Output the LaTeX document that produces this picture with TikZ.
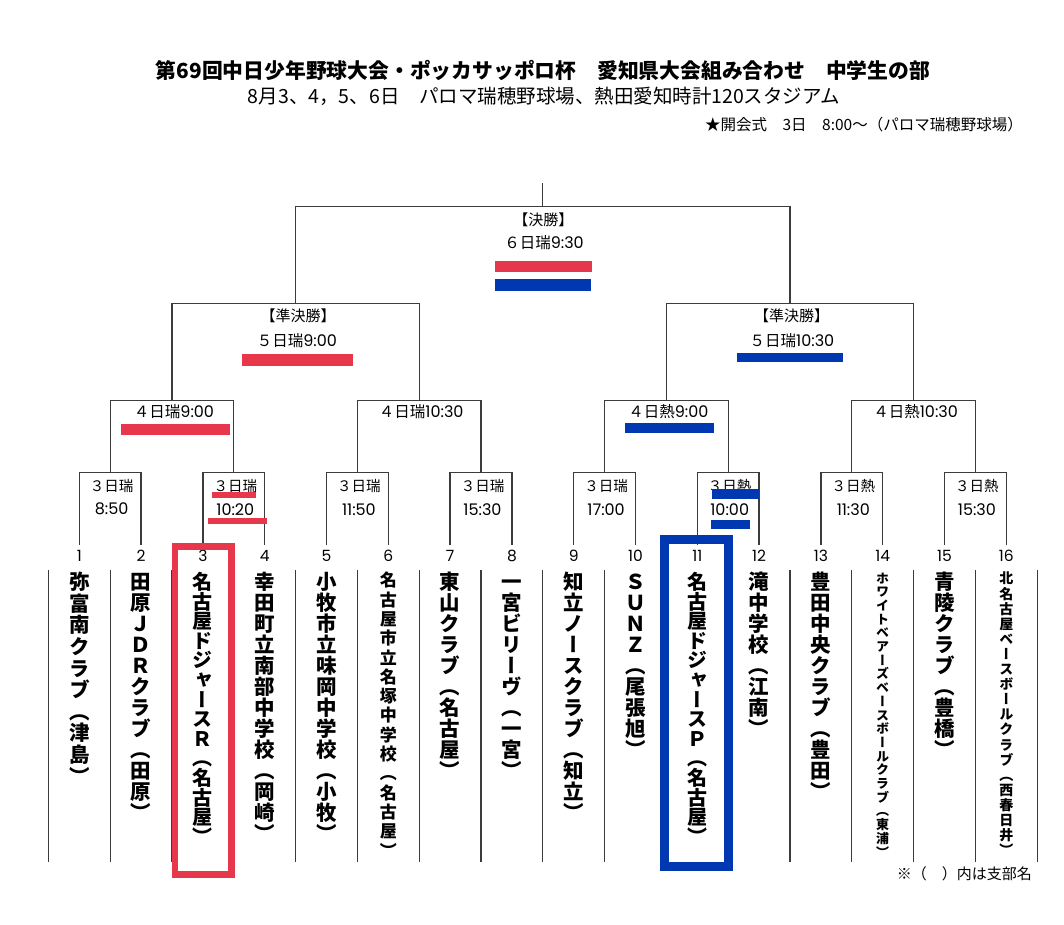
\documentclass[tikz,border=0pt]{standalone}
\usepackage{fontspec}
\setmainfont{Noto Sans CJK JP}
\newfontfamily\vjp[RawFeature=+vert]{Noto Sans CJK JP}
\newfontfamily\dg{Poppins}
\usetikzlibrary{calc}
\definecolor{hlred}{RGB}{230,55,75}
\definecolor{hlblue}{RGB}{0,56,178}
\definecolor{linegray}{RGB}{60,60,60}
\ExplSyntaxOn
\tl_new:N \l_vt_tl
\NewDocumentCommand\vt{mmm}{
  \group_begin:
  \tl_set:Nx \l_vt_tl {#3}
  \tl_replace_all:Nnn \l_vt_tl {（} {︵}
  \tl_replace_all:Nnn \l_vt_tl {）} {︶}
  \vjp\fontsize{#1}{#2}\bfseries\selectfont
  \vbox{\baselineskip=#2\lineskiplimit=-\maxdimen\lineskip=0pt
    \tl_map_inline:Nn \l_vt_tl {\hbox to #1{\hss ##1\hss\vrule~height~0.83em~depth~0pt~width~0pt}}}
  \group_end:
}
\ExplSyntaxOff
\newcommand\tm[1]{{\dg\fontsize{16}{17}\selectfont #1}}
\tikzset{
  bracket/.style={draw=linegray, line width=1.3pt},
  sepline/.style={draw=linegray, line width=1.3pt},
  lbl/.style={inner sep=0pt, font=\fontsize{14.5}{15}\selectfont},
  rlbl/.style={inner sep=0pt, font=\fontsize{15.5}{17}\selectfont},
  hdl/.style={inner sep=0pt, font=\fontsize{15}{16}\selectfont},
  num/.style={inner sep=0pt, font=\dg\fontsize{15.5}{16}\selectfont},
  team/.style={anchor=north, inner sep=0pt},
  titlef/.style={inner sep=0pt, font=\fontsize{20.8}{22}\bfseries\selectfont},
  subf/.style={inner sep=0pt, font=\fontsize{19.5}{21}\selectfont},
  smallf/.style={inner sep=0pt, font=\fontsize{15.5}{17}\selectfont},
  notef/.style={inner sep=0pt, font=\fontsize{15}{17}\selectfont},
  redbar/.style={fill=hlred, draw=none, inner sep=0pt, outer sep=0pt},
  bluebar/.style={fill=hlblue, draw=none, inner sep=0pt, outer sep=0pt},
  redframe/.style={draw=hlred, line width=6.5pt},
  blueframe/.style={draw=hlblue, line width=9pt}
}
\begin{document}
\begin{tikzpicture}[x=1pt,y=-1pt]
\useasboundingbox (0,0) rectangle (1064,924);
\fill[white] (0,0) rectangle (1064,924);

% headings
\node[titlef] (title) at (543,70.5) {第69回中日少年野球大会・ポッカサッポロ杯　愛知県大会組み合わせ　中学生の部};
\node[subf] (sub) at (544,96) {8月3、4，5、6日　パロマ瑞穂野球場、熱田愛知時計120スタジアム};
\node[smallf, anchor=east] (open) at (1023,124.5) {★開会式　3日　8:00～（パロマ瑞穂野球場）};

% team leg ends and numbers
\foreach \i in {1,...,16}{
  \pgfmathsetmacro\xx{79.3+(\i-1)*61.8}
  \coordinate (b\i) at (\xx,545);
  \node[num] (n\i) at (\xx,556) {\i};
}
% match centres
\foreach \j in {1,...,8}{
  \pgfmathsetmacro\xx{79.3+(2*\j-1.5)*61.8}
  \coordinate (ra-\j) at (\xx,472.7);
}
\foreach \k in {1,...,4}{
  \pgfmathsetmacro\xx{79.3+(4*\k-2.5)*61.8}
  \coordinate (rb-\k) at (\xx,400.3);
}
\foreach \m in {1,2}{
  \pgfmathsetmacro\xx{79.3+(8*\m-4.5)*61.8}
  \coordinate (rc-\m) at (\xx,303.3);
}
\coordinate (rd) at (542.8,206.7);
\coordinate (top) at (542.8,182.7);

% bracket lines
\foreach \j in {1,...,8}{
  \pgfmathtruncatemacro\a{2*\j-1}
  \pgfmathtruncatemacro\b{2*\j}
  \draw[bracket] (b\a) |- (ra-\j) -| (b\b);
}
\foreach \k in {1,...,4}{
  \pgfmathtruncatemacro\a{2*\k-1}
  \pgfmathtruncatemacro\b{2*\k}
  \draw[bracket] (ra-\a) |- (rb-\k) -| (ra-\b);
}
\foreach \m in {1,2}{
  \pgfmathtruncatemacro\a{2*\m-1}
  \pgfmathtruncatemacro\b{2*\m}
  \draw[bracket] (rb-\a) |- (rc-\m) -| (rb-\b);
}
\draw[bracket] (rc-1) |- (rd) -| (rc-2);
\draw[bracket] (rd) -- (top);

% separators
\foreach \k in {0,...,16}{
  \pgfmathsetmacro\xx{48.4+\k*61.8}
  \coordinate (st\k) at (\xx,570);
  \coordinate (sb\k) at (\xx,862);
  \draw[sepline] (st\k) -- (sb\k);
}

% round 1 labels
\foreach \j/\da/\tt in {1/３日瑞/8:50, 2/３日瑞/10:20, 3/３日瑞/11:50, 4/３日瑞/15:30,
                         5/３日瑞/17:00, 6/３日熱/10:00, 7/３日熱/11:30, 8/３日熱/15:30}{
  \node[lbl] (la-\j) at ($(ra-\j)+(1.5,13)$) {\da};
  \node[lbl] (lb-\j) at ($(ra-\j)+(1.5,36.5)$) {\tm{\tt}};
}
% round 2 labels
\foreach \k/\da/\tt in {1/４日瑞/9:00, 2/４日瑞/10:30, 3/４日熱/9:00, 4/４日熱/10:30}{
  \node[rlbl] (lc-\k) at ($(rb-\k)+(2,11.7)$) {\da\tm{\tt}};
}
% semifinal labels
\node[hdl] (sh1) at ($(rc-1)+(2.4,12.4)$) {【準決勝】};
\node[rlbl] (st1) at ($(rc-1)+(1.2,37.4)$) {５日瑞\tm{9:00}};
\node[hdl] (sh2) at ($(rc-2)+(1.7,12.4)$) {【準決勝】};
\node[rlbl] (st2) at ($(rc-2)+(2,37.4)$) {５日瑞\tm{10:30}};
% final labels
\node[hdl] (fh) at ($(rd)+(0.5,13.3)$) {【決勝】};
\node[rlbl] (ft) at ($(rd)+(1.2,36.2)$) {６日瑞\tm{9:30}};

% highlight bars
\node[redbar, minimum width=96.7pt, minimum height=11.6pt] (fbar-r) at (543.3,266.5) {};
\node[bluebar, minimum width=96pt, minimum height=11.7pt] (fbar-b) at (543,285.2) {};
\node[redbar, minimum width=110.4pt, minimum height=11.7pt] (sbar-r) at (297.5,360.2) {};
\node[bluebar, minimum width=105.7pt, minimum height=9.6pt] (sbar-b) at (790.2,357.5) {};
\node[redbar, minimum width=109.6pt, minimum height=10.7pt] (qbar-r) at (175.5,429.4) {};
\node[bluebar, minimum width=89pt, minimum height=9.4pt] (qbar-b) at (669.5,428) {};
\node[redbar, minimum width=43.4pt, minimum height=6pt] (pbar-r1) at (234,495.3) {};
\node[redbar, minimum width=58.4pt, minimum height=6.3pt] (pbar-r2) at (237.5,520.9) {};
\node[bluebar, minimum width=47.6pt, minimum height=9.7pt] (pbar-b1) at (735.5,494.2) {};
\node[bluebar, minimum width=39.3pt, minimum height=9.3pt] (pbar-b2) at (730.4,524.7) {};

% team names
\foreach \i/\fs/\sk/\txt in {
  1/20.5pt/21.6pt/弥富南クラブ（津島）,
  2/20.5pt/21pt/田原ＪＤＲクラブ（田原）,
  3/20pt/19.6pt/名古屋ドジャースＲ（名古屋）,
  4/20.5pt/21pt/幸田町立南部中学校（岡崎）,
  5/20.5pt/21pt/小牧市立味岡中学校（小牧）,
  6/17pt/19.3pt/名古屋市立名塚中学校（名古屋）,
  7/20.5pt/21pt/東山クラブ（名古屋）,
  8/20.5pt/21pt/一宮ビリーヴ（一宮）,
  9/20.5pt/21pt/知立ノースクラブ（知立）,
  10/20.5pt/21pt/ＳＵＮＺ（尾張旭）,
  11/20pt/19.6pt/名古屋ドジャースＰ（名古屋）,
  12/20.5pt/21pt/滝中学校（江南）,
  13/20.5pt/21pt/豊田中央クラブ（豊田）,
  14/13pt/13.7pt/ホワイトベアーズベースボールクラブ（東浦）,
  15/20.5pt/21pt/青陵クラブ（豊橋）,
  16/14pt/15.1pt/北名古屋ベースボールクラブ（西春日井）}{
  \pgfmathsetmacro\xx{79.3+(\i-1)*61.8}
  \node[team] (t\i) at (\xx,572) {\vt{\fs}{\sk}{\txt}};
}

% frames around the finalists
\draw[redframe] (175,546.7) rectangle (231.5,874.5);
\draw[blueframe] (664.7,539.7) rectangle (728.8,866.2);

% footnote
\node[notef, anchor=east] (note) at (1032,873.3) {※（　）内は支部名};
\end{tikzpicture}
\end{document}
